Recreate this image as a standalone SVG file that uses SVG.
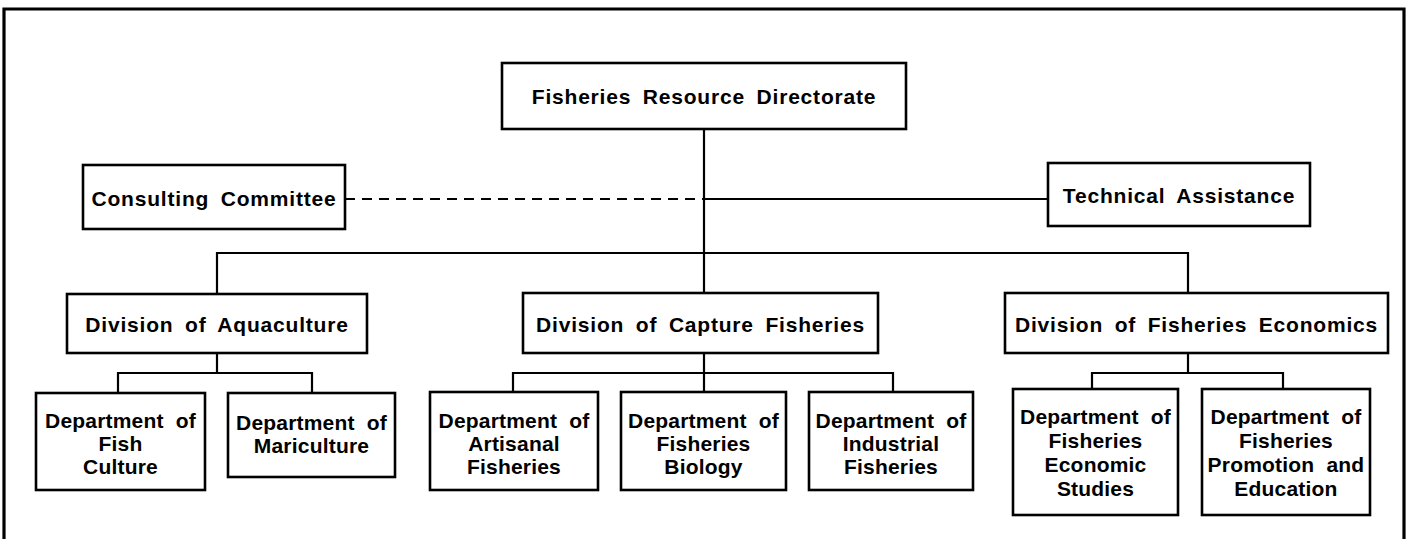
<svg xmlns="http://www.w3.org/2000/svg" width="1408" height="539" viewBox="0 0 1408 539">
<style>
.box{fill:#fff;stroke:#000;stroke-width:2.6}
.ln{fill:none;stroke:#000;stroke-width:2.2}
.dash{fill:none;stroke:#000;stroke-width:2.2;stroke-dasharray:10 7}
.frame{fill:none;stroke:#000;stroke-width:3.2}
text{font-family:"Liberation Sans",Arial,sans-serif;font-weight:bold;font-size:21px;letter-spacing:0.8px;word-spacing:5px;text-anchor:middle;fill:#000}
.d text{letter-spacing:0.2px;word-spacing:6px}
</style>
<rect width="1408" height="539" fill="#fff"/>
<path class="frame" d="M4,541 V9 H1404 V541"/>
<g id="connectors">
<path class="ln" d="M704,129 V293"/>
<path class="dash" d="M345,199 H704"/>
<path class="ln" d="M704,199 H1048"/>
<path class="ln" d="M217,294 V253 H1188 V293"/>
<path class="ln" d="M217,353 V373 M118,393 V373 H312 V393"/>
<path class="ln" d="M704,353 V392 M513,392 V373 H893 V392"/>
<path class="ln" d="M1188,353 V373 M1092,389 V373 H1283 V389"/>
</g>
<g id="frd"><rect class="box" x="502" y="63" width="404" height="66"/><text x="704" y="104">Fisheries Resource Directorate</text></g>
<g id="consulting"><rect class="box" x="83" y="165" width="262" height="64"/><text x="214" y="206">Consulting Committee</text></g>
<g id="technical"><rect class="box" x="1048" y="163" width="262" height="63"/><text x="1179" y="203">Technical Assistance</text></g>
<g id="div_aqua"><rect class="box" x="67" y="294" width="300" height="59"/><text x="217" y="332">Division of Aquaculture</text></g>
<g id="div_capture"><rect class="box" x="523" y="293" width="355" height="60"/><text x="700.5" y="332">Division of Capture Fisheries</text></g>
<g id="div_econ"><rect class="box" x="1005" y="293" width="383" height="60"/><text x="1196.5" y="332">Division of Fisheries Economics</text></g>
<g id="dept_fish" class="d"><rect class="box" x="36" y="393" width="169" height="97"/><text x="120.5" y="428">Department of</text><text x="120.5" y="451">Fish</text><text x="120.5" y="474">Culture</text></g>
<g id="dept_mari" class="d"><rect class="box" x="228" y="393" width="167" height="84"/><text x="311.5" y="430">Department of</text><text x="311.5" y="453">Mariculture</text></g>
<g id="dept_artisanal" class="d"><rect class="box" x="430" y="392" width="168" height="98"/><text x="514" y="428">Department of</text><text x="514" y="451">Artisanal</text><text x="514" y="474">Fisheries</text></g>
<g id="dept_biology" class="d"><rect class="box" x="621" y="392" width="165" height="98"/><text x="703.5" y="428">Department of</text><text x="703.5" y="451">Fisheries</text><text x="703.5" y="474">Biology</text></g>
<g id="dept_industrial" class="d"><rect class="box" x="809" y="392" width="164" height="98"/><text x="891" y="428">Department of</text><text x="891" y="451">Industrial</text><text x="891" y="474">Fisheries</text></g>
<g id="dept_econ_studies" class="d"><rect class="box" x="1013" y="389" width="165" height="126"/><text x="1095.5" y="424">Department of</text><text x="1095.5" y="448">Fisheries</text><text x="1095.5" y="472">Economic</text><text x="1095.5" y="496">Studies</text></g>
<g id="dept_promotion" class="d"><rect class="box" x="1202" y="389" width="168" height="126"/><text x="1286" y="424">Department of</text><text x="1286" y="448">Fisheries</text><text x="1286" y="472">Promotion and</text><text x="1286" y="496">Education</text></g>
</svg>
